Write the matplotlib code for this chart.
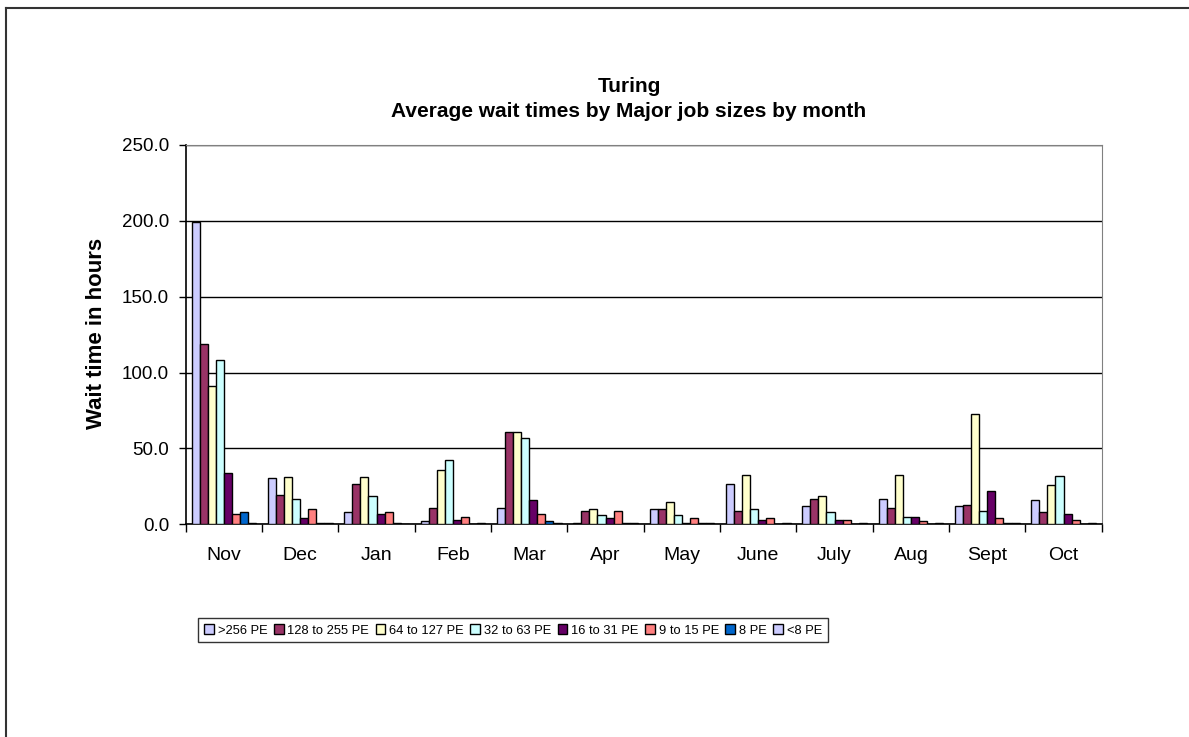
import matplotlib.pyplot as plt
import numpy as np

plt.rcParams["font.family"] = ["Liberation Sans", "DejaVu Sans"]

months = ["Nov", "Dec", "Jan", "Feb", "Mar", "Apr", "May", "June", "July", "Aug", "Sept", "Oct"]
job_sizes = [">256 PE", "128 to 255 PE", "64 to 127 PE", "32 to 63 PE",
             "16 to 31 PE", "9 to 15 PE", "8 PE", "<8 PE"]

pe_over_256 = [199.1, 30.3, 7.9, 2.2, 10.7, 1.0, 9.9, 26.6, 11.9, 16.7, 11.9, 15.8]
pe_128_255 = [119.1, 19.5, 26.4, 10.7, 61.1, 8.8, 9.9, 8.8, 16.7, 10.7, 12.9, 7.9]
pe_64_127 = [91.4, 31.4, 31.4, 35.6, 61.1, 9.9, 14.7, 32.5, 18.9, 32.5, 72.7, 25.7]
pe_32_63 = [108.1, 16.7, 18.7, 42.4, 57.1, 5.9, 5.9, 9.9, 7.9, 4.8, 8.8, 31.6]
pe_16_31 = [33.6, 3.9, 6.8, 3.0, 15.8, 3.9, 1.0, 2.8, 2.6, 4.8, 21.8, 7.0]
pe_9_15 = [6.6, 9.9, 7.9, 5.0, 7.0, 8.8, 3.9, 3.9, 2.6, 2.0, 3.9, 2.8]
pe_8 = [7.9, 1.0, 0.8, 0.0, 2.0, 1.0, 1.0, 0.0, 0.0, 0.0, 1.0, 0.0]
pe_under_8 = [1.0, 1.0, 0.5, 1.0, 1.0, 1.0, 1.0, 1.0, 1.0, 1.0, 1.0, 1.0]

series = [pe_over_256, pe_128_255, pe_64_127, pe_32_63, pe_16_31, pe_9_15, pe_8, pe_under_8]
colors = ["#CCCCFF", "#993366", "#FFFFCC", "#CCFFFF", "#660066", "#FF8080", "#0066CC", "#CCCCFF"]

fig = plt.figure(figsize=(11.89, 7.37), dpi=100)
ax = fig.add_axes([0.1562, 0.2886, 0.7704, 0.5147])

bar_width = 0.106
offset = (1 - bar_width * len(series)) / 2
x = np.arange(len(months))
for k, (values, color, label) in enumerate(zip(series, colors, job_sizes)):
    ax.bar(x + offset + k * bar_width, values, width=bar_width, align="edge",
           color=color, edgecolor="black", linewidth=1.0, label=label, zorder=3)

ax.set_xlim(0, len(months))
ax.set_ylim(0, 250)
ax.set_yticks(np.arange(0, 251, 50))
ax.set_yticklabels([f"{v:.1f}" for v in np.arange(0, 251, 50)])
ax.yaxis.grid(True, color="black", linewidth=1.0, zorder=0)

ax.set_xticks(np.arange(len(months) + 1))
ax.set_xticklabels([])
ax.set_xticks(x + 0.5, minor=True)
ax.set_xticklabels(months, minor=True, fontsize=14)
ax.tick_params(axis="x", which="major", direction="out", length=6, width=1)
ax.tick_params(axis="x", which="minor", length=0, pad=16)
ax.tick_params(axis="y", direction="out", length=5, width=1, labelsize=13.5, pad=7)

ax.spines["top"].set_color("#808080")
ax.spines["right"].set_color("#808080")
for side in ["left", "bottom"]:
    ax.spines[side].set_linewidth(1.2)

fig.text(97 / 1189, 0.5475, "Wait time in hours", rotation=90, ha="center", va="center",
         fontsize=16, fontweight="bold")

fig.text(0.529, 0.865, "Turing\nAverage wait times by Major job sizes by month",
         ha="center", va="center", fontsize=15, fontweight="bold", linespacing=1.4)

legend = fig.legend(loc="upper left", bbox_to_anchor=(192 / 1189, 1 - 612 / 737), ncol=8, fontsize=9.3,
                    frameon=True, fancybox=False, edgecolor="black", handlelength=0.75,
                    handleheight=0.75, handletextpad=0.3, columnspacing=0.5, borderpad=0.45)
legend.get_frame().set_linewidth(1.0)

# outer chart frame (only left and top edges fall inside the picture)
fig.add_artist(plt.Line2D([0.005, 0.005], [0, 0.989], transform=fig.transFigure, color="#333333", linewidth=1.5))
fig.add_artist(plt.Line2D([0.005, 1.0], [0.989, 0.989], transform=fig.transFigure, color="#333333", linewidth=1.5))

fig.savefig("out.png", dpi=100)
